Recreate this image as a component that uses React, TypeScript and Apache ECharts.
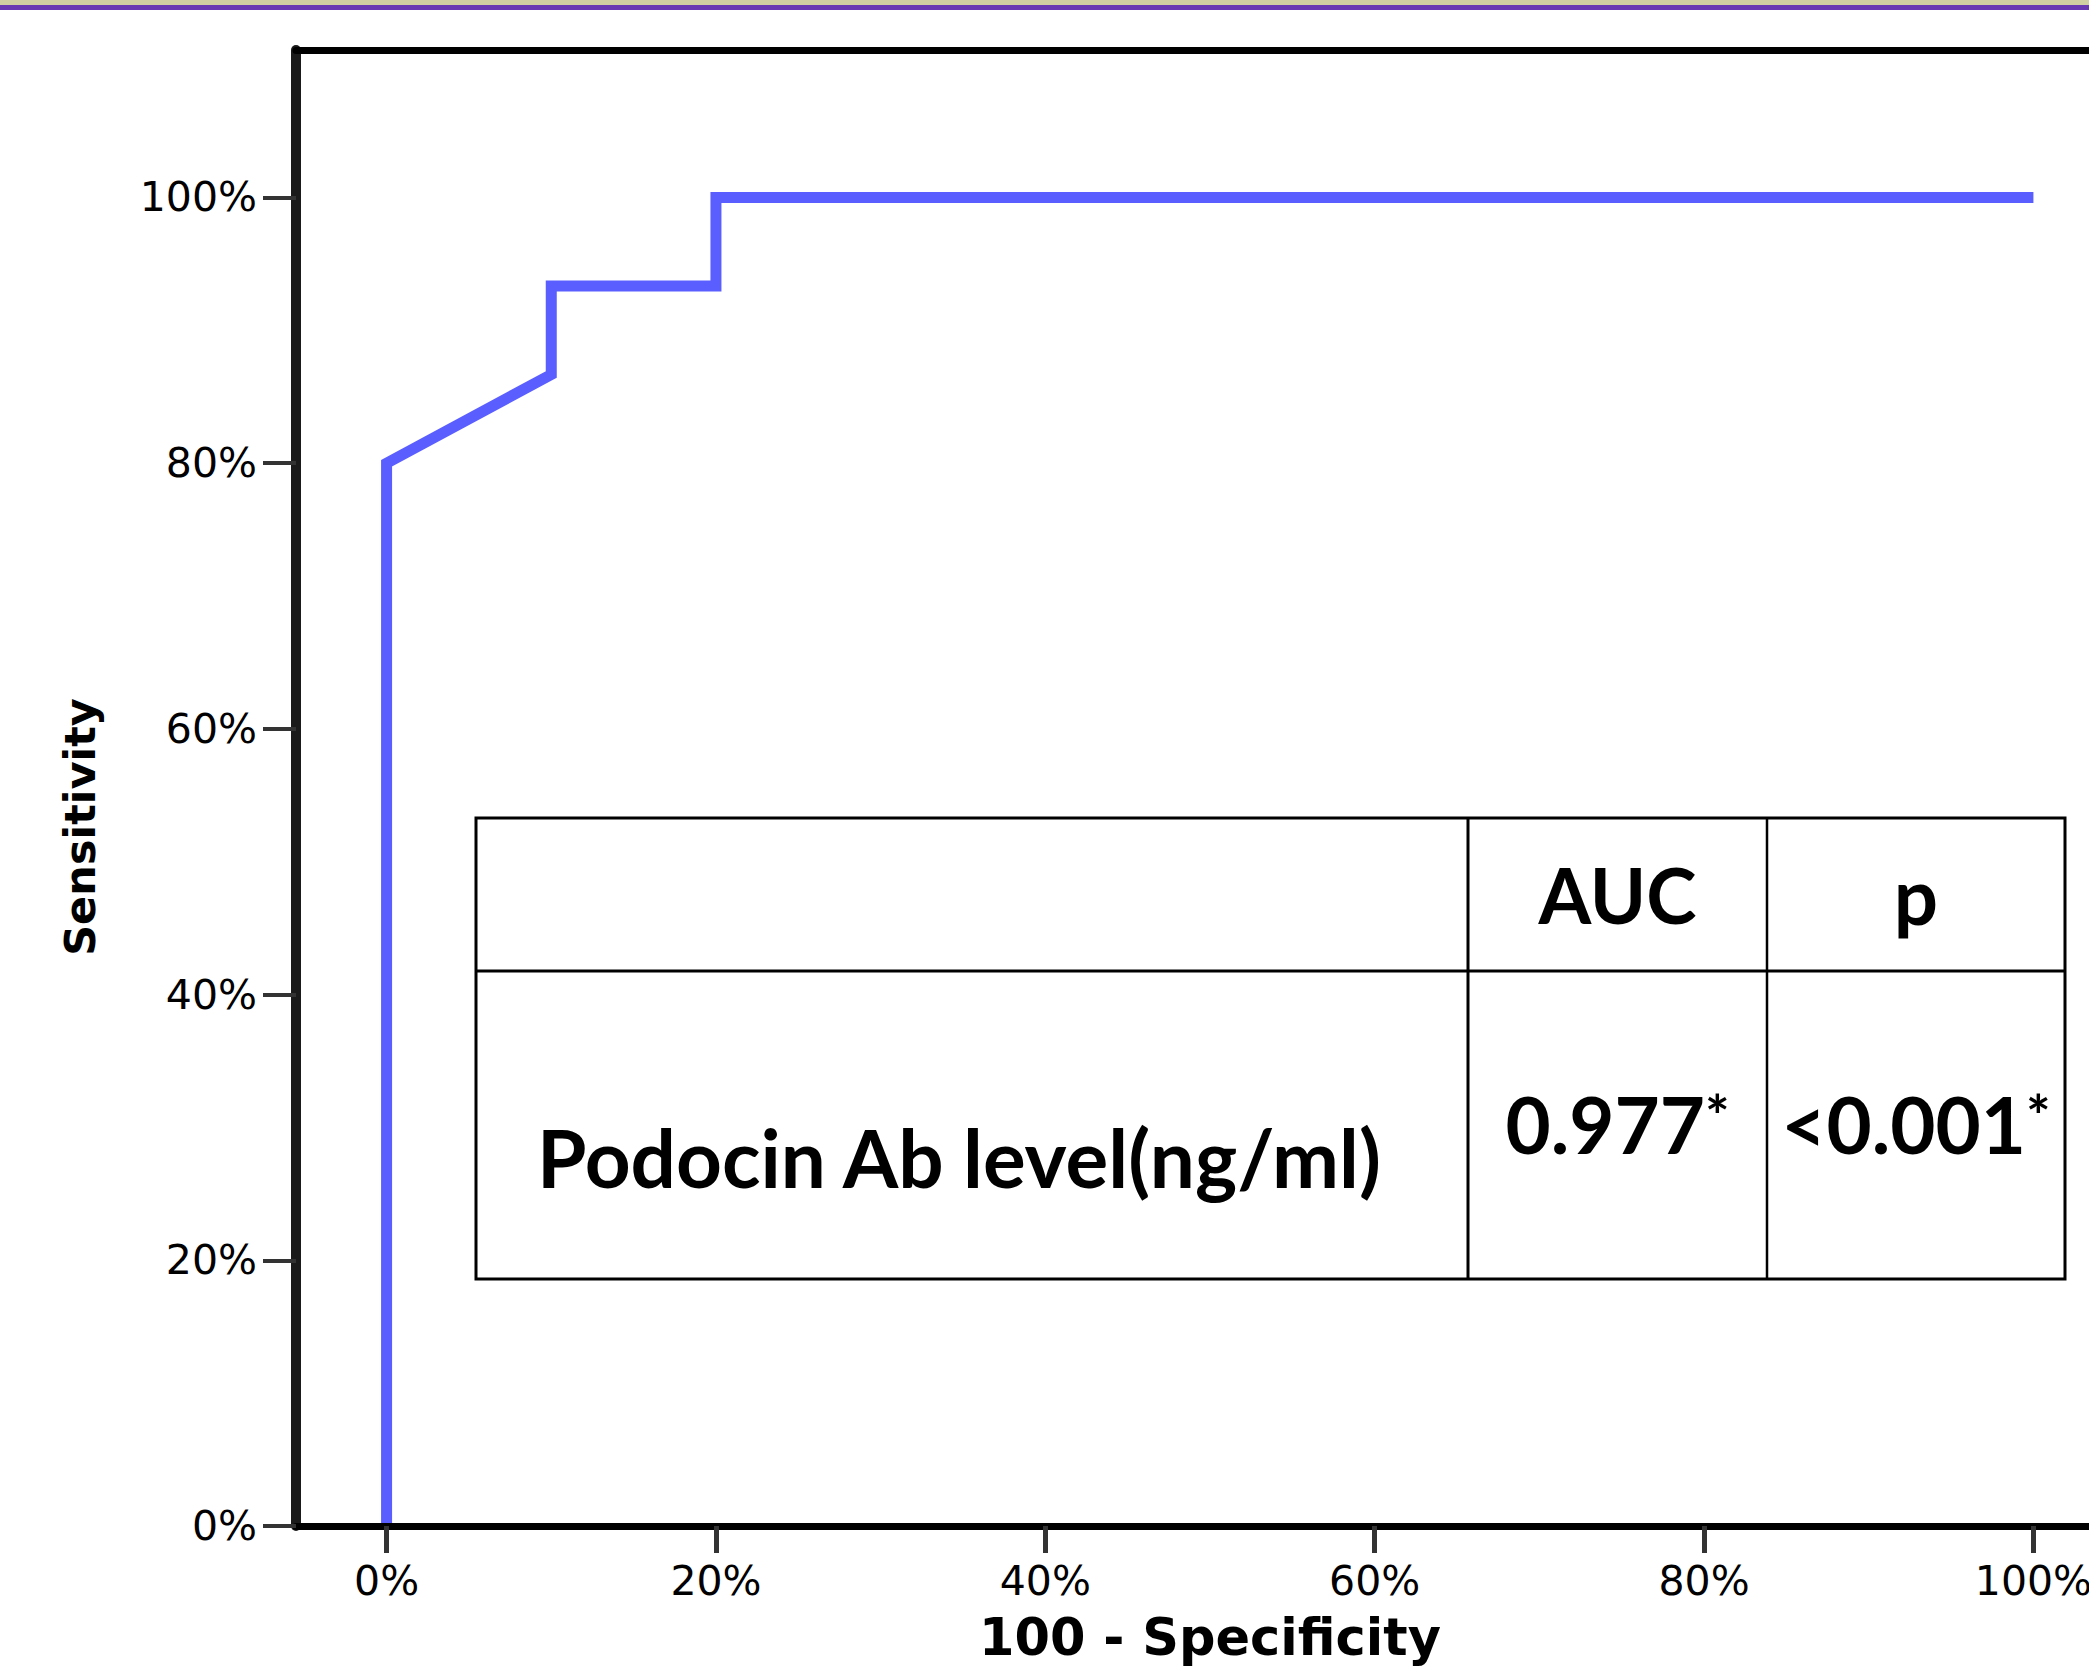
import React, { useEffect, useRef } from "react";
import * as echarts from "echarts";

// ---- data ----
const falsePositiveRate = [0, 0, 10, 10, 20, 20, 100];
const sensitivity = [0, 80, 86.67, 93.33, 93.33, 100, 100];
const xTickValues = [0, 20, 40, 60, 80, 100];
const yTickValues = [0, 20, 40, 60, 80, 100];
const xAxisTitle = "100 - Specificity";
const yAxisTitle = "Sensitivity";
const tableHeaders = ["AUC", "p"];
const tableRowLabel = "Podocin Ab level(ng/ml)";
const aucValue = "0.977";
const pValue = "<0.001";
const significanceMark = "*";

const TICK_FONT = "DejaVu Sans";
const TABLE_FONT = "Lato";

export default function App() {
  const ref = useRef<HTMLDivElement>(null);

  useEffect(() => {
    if (!ref.current) return;
    const chart = echarts.init(ref.current, undefined, { renderer: "svg" });

    const T = { left: 476, top: 818, mid: 971, bottom: 1279, c1: 1468, c2: 1767, right: 2065 };
    const tableText = (text: string, x: number, y: number, align: string, size: number) => ({
      type: "text",
      x,
      y,
      style: {
        text,
        fill: "#000",
        fontFamily: TABLE_FONT,
        fontWeight: "bold",
        fontSize: size,
        align,
        textAlign: align,
        verticalAlign: "middle",
        textVerticalAlign: "middle",
        rich: {
          m: { fontFamily: TABLE_FONT, fontWeight: "bold", fontSize: size, fill: "#000", color: "#000" },
          s: { fontFamily: TABLE_FONT, fontWeight: "bold", fontSize: 58, fill: "#000", color: "#000", verticalAlign: "top" },
        },
      },
      z: 100,
    });

    const option: any = {
      animation: false,
      backgroundColor: "#fff",
      grid: { left: 296, top: 50, width: 1828, height: 1476, containLabel: false, outerBoundsMode: "none" },
      xAxis: [
        {
          type: "value",
          min: -5.5,
          max: 105.5,
          position: "bottom",
          z: 3,
          axisLine: { show: true, onZero: false, lineStyle: { color: "#000", width: 7 } },
          axisTick: { show: true, length: 27, lineStyle: { color: "#333", width: 5 }, customValues: xTickValues },
          axisLabel: {
            customValues: xTickValues,
            formatter: (v: number) => v + "%",
            fontFamily: TICK_FONT,
            fontSize: 41,
            color: "#000",
            margin: 34,
          },
          splitLine: { show: false },
          name: xAxisTitle,
          nameLocation: "middle",
          nameGap: 86,
          nameTextStyle: { fontFamily: TICK_FONT, fontWeight: "bold", fontSize: 51, color: "#000" },
        },
        {
          type: "value",
          min: -5.5,
          max: 105.5,
          position: "top",
          z: 3,
          axisLine: { show: true, onZero: false, lineStyle: { color: "#000", width: 7 } },
          axisTick: { show: false },
          axisLabel: { show: false },
          splitLine: { show: false },
        },
      ],
      yAxis: {
        type: "value",
        min: 0,
        max: 111.1,
        z: 3,
        axisLine: { show: true, onZero: false, lineStyle: { color: "#1a1a1a", width: 10 } },
        axisTick: { show: true, length: 33, lineStyle: { color: "#333", width: 4 }, customValues: yTickValues },
        axisLabel: {
          customValues: yTickValues,
          formatter: (v: number) => v + "%",
          fontFamily: TICK_FONT,
          fontSize: 41,
          color: "#000",
          margin: 39,
        },
        splitLine: { show: false },
        name: yAxisTitle,
        nameLocation: "middle",
        nameRotate: 90,
        nameGap: 195,
        nameTextStyle: {
          fontFamily: TICK_FONT,
          fontWeight: "bold",
          fontSize: 43,
          color: "#000",
          padding: [0, 78, 0, 0],
        },
      },
      series: [
        {
          type: "line",
          xAxisIndex: 0,
          data: falsePositiveRate.map((x, i) => [x, sensitivity[i]]),
          symbol: "none",
          clip: false,
          z: 2,
          lineStyle: { color: "#5B5EFF", width: 11, cap: "butt", join: "miter" },
        },
      ],
      graphic: [
        { type: "rect", shape: { x: 0, y: 0, width: 2089, height: 5 }, style: { fill: "#D0D0A2" } },
        { type: "rect", shape: { x: 0, y: 5, width: 2089, height: 5 }, style: { fill: "#6A3AB2" } },
        {
          type: "rect",
          shape: { x: T.left, y: T.top, width: T.right - T.left, height: T.bottom - T.top },
          style: { fill: "#fff", stroke: "#000", lineWidth: 3 },
          z: 99,
        },
        { type: "line", shape: { x1: T.left, y1: T.mid, x2: T.right, y2: T.mid }, style: { stroke: "#000", lineWidth: 3 }, z: 100 },
        { type: "line", shape: { x1: T.c1, y1: T.top, x2: T.c1, y2: T.bottom }, style: { stroke: "#000", lineWidth: 3 }, z: 100 },
        { type: "line", shape: { x1: T.c2, y1: T.top, x2: T.c2, y2: T.bottom }, style: { stroke: "#000", lineWidth: 2.5 }, z: 100 },
        tableText(tableHeaders[0], (T.c1 + T.c2) / 2, (T.top + T.mid) / 2, "center", 76),
        tableText(tableHeaders[1], (T.c2 + T.right) / 2, (T.top + T.mid) / 2, "center", 78),
        tableText(tableRowLabel, 537, 1157, "left", 80),
        tableText(`{m|${aucValue}}{s|${significanceMark}}`, (T.c1 + T.c2) / 2, 1124, "center", 78),
        tableText(`{m|${pValue}}{s|${significanceMark}}`, (T.c2 + T.right) / 2, 1124, "center", 78),
      ],
    };

    chart.setOption(option);
    return () => chart.dispose();
  }, []);

  return (
    <div
      ref={ref}
      style={{ position: "absolute", left: 0, top: 0, width: 2089, height: 1667, background: "#fff" }}
    />
  );
}
